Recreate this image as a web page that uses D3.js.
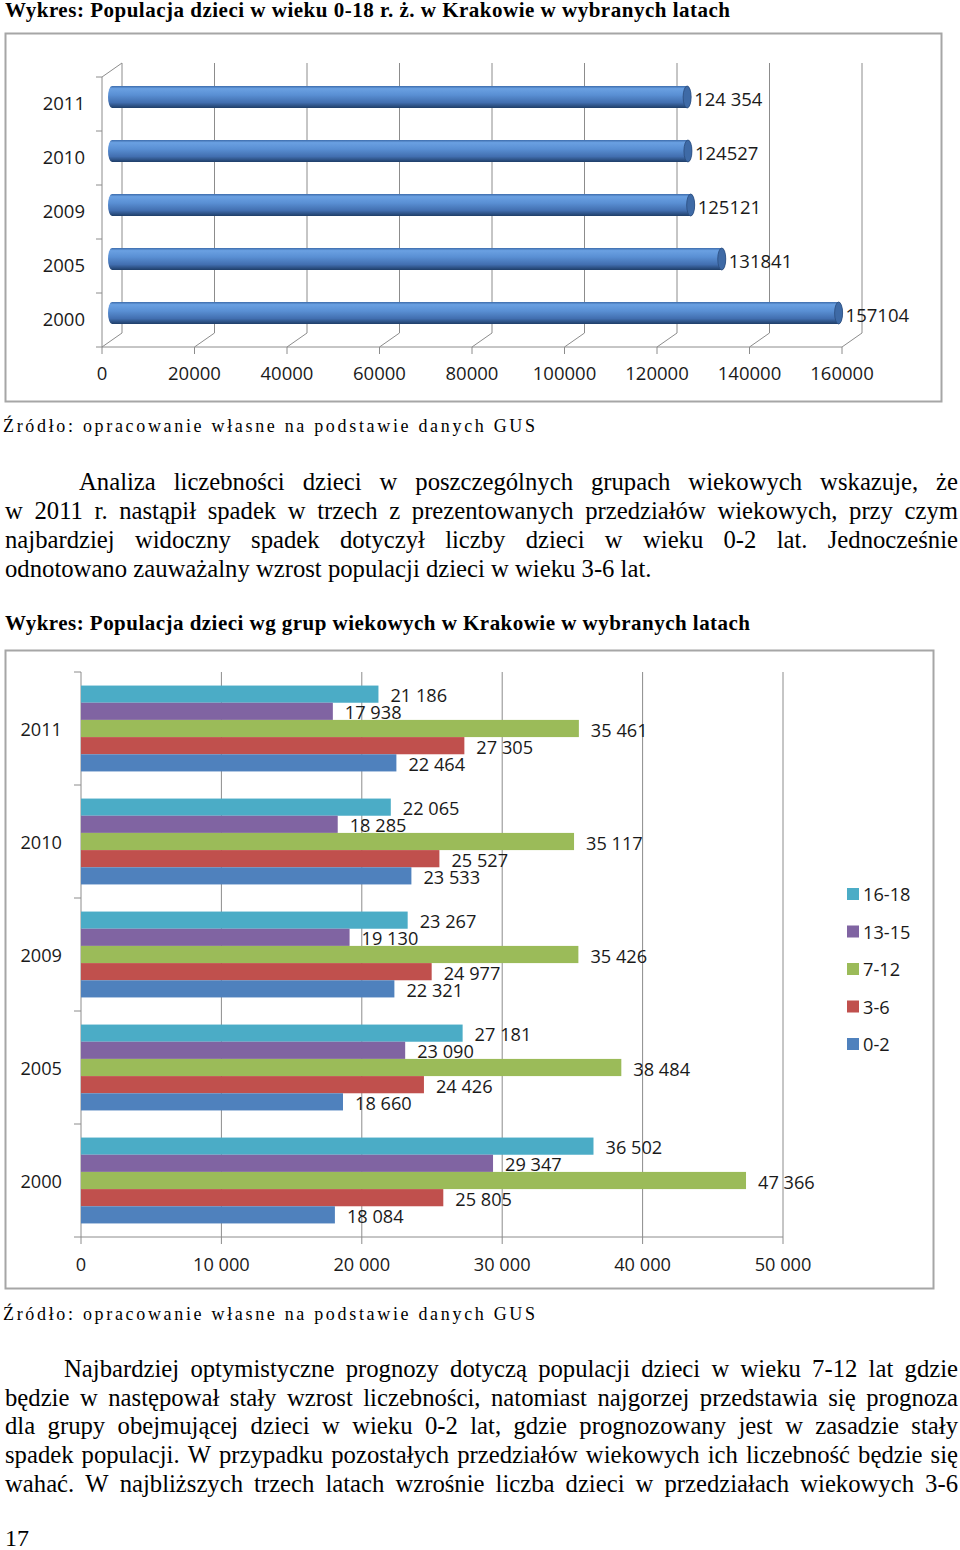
<!DOCTYPE html>
<html>
<head>
<meta charset="utf-8">
<script src="https://cdn.jsdelivr.net/npm/d3@7"></script>
<style>
  body { margin: 0; background: #fff; }
  .serif { font-family: "Liberation Serif", "Times New Roman", serif; fill: #000; }
  .sans { font-family: "Open Sans", "DejaVu Sans", sans-serif; fill: #1a1a1a; }
</style>
</head>
<body>
<script>
// chart 1: total population 0-18
var years1 = ['2011', '2010', '2009', '2005', '2000'];
var totals = [124354, 124527, 125121, 131841, 157104];
var totalLabels = ['124 354', '124527', '125121', '131841', '157104'];
var ticks1 = [0, 20000, 40000, 60000, 80000, 100000, 120000, 140000, 160000];

// chart 2: by age group
var years2 = ['2011', '2010', '2009', '2005', '2000'];
var ageGroups = ['16-18', '13-15', '7-12', '3-6', '0-2'];
var age16_18 = [21186, 22065, 23267, 27181, 36502];
var age13_15 = [17938, 18285, 19130, 23090, 29347];
var age7_12 = [35461, 35117, 35426, 38484, 47366];
var age3_6 = [27305, 25527, 24977, 24426, 25805];
var age0_2 = [22464, 23533, 22321, 18660, 18084];
var ticks2 = [0, 10000, 20000, 30000, 40000, 50000];
var groupColors = ['#4bacc6', '#8064a2', '#9bbb59', '#c0504d', '#4f81bd'];

var para1 = [
  'Analiza liczebności dzieci w poszczególnych grupach wiekowych wskazuje, że',
  'w 2011 r. nastąpił spadek w trzech z prezentowanych przedziałów wiekowych, przy czym',
  'najbardziej widoczny spadek dotyczył liczby dzieci w wieku 0-2 lat. Jednocześnie',
  'odnotowano zauważalny wzrost populacji dzieci w wieku 3-6 lat.'
];
var para2 = [
  'Najbardziej optymistyczne prognozy dotyczą populacji dzieci w wieku 7-12 lat gdzie',
  'będzie w następował stały wzrost liczebności, natomiast najgorzej przedstawia się prognoza',
  'dla grupy obejmującej dzieci w wieku 0-2 lat, gdzie prognozowany jest w zasadzie stały',
  'spadek populacji. W przypadku pozostałych przedziałów wiekowych ich liczebność będzie się',
  'wahać. W najbliższych trzech latach wzrośnie liczba dzieci w przedziałach wiekowych 3-6'
];

var svg = d3.select('body').append('svg')
  .attr('width', 960)
  .attr('height', 1550);

var defs = svg.append('defs');
var grad = defs.append('linearGradient')
  .attr('id', 'cyl')
  .attr('x1', 0).attr('y1', 0).attr('x2', 0).attr('y2', 1);
[['0%', '#3d6cab'], ['12%', '#6aa0e2'], ['40%', '#5a90d4'], ['75%', '#426fb0'], ['100%', '#1f3e68']]
  .forEach(function(s) {
    grad.append('stop').attr('offset', s[0]).attr('stop-color', s[1]);
  });

// titles / captions
function caption(text, x, y, size, bold, len) {
  svg.append('text').attr('class', 'serif')
    .attr('x', x).attr('y', y)
    .style('font-size', size + 'px')
    .style('font-weight', bold ? 'bold' : 'normal')
    .attr('textLength', len)
    .attr('lengthAdjust', 'spacing')
    .text(text);
}

caption('Wykres: Populacja dzieci w wieku 0-18 r. ż. w Krakowie w wybranych latach', 5, 17, 21, true, 725);
caption('Źródło: opracowanie własne na podstawie danych GUS', 3, 432, 18, false, 532);
caption('Wykres: Populacja dzieci wg grup wiekowych w Krakowie w wybranych latach', 5, 630, 21, true, 745);
caption('Źródło: opracowanie własne na podstawie danych GUS', 3, 1320, 18, false, 532);

// justified paragraph lines
function paraLine(text, x0, x1, y, justify) {
  var t = svg.append('text').attr('class', 'serif')
    .attr('y', y)
    .style('font-size', '24.7px');
  if (!justify) {
    t.attr('x', x0).text(text);
    return;
  }
  var words = text.split(' ');
  var widths = words.map(function(w) {
    var tmp = svg.append('text').attr('class', 'serif').style('font-size', '24.7px').text(w);
    var l = tmp.node().getComputedTextLength();
    tmp.remove();
    return l;
  });
  var gap = (x1 - x0 - d3.sum(widths)) / (words.length - 1);
  var pos = x0;
  words.forEach(function(w, i) {
    t.append('tspan').attr('x', pos).text(i < words.length - 1 ? w + ' ' : w);
    pos += widths[i] + gap;
  });
}

para1.forEach(function(line, i) {
  paraLine(line, i === 0 ? 79 : 5, 958, 490 + i * 29, i < para1.length - 1);
});
para2.forEach(function(line, i) {
  paraLine(line, i === 0 ? 64 : 5, 958, 1377 + i * 28.7, true);
});

svg.append('text').attr('class', 'serif')
  .attr('x', 5).attr('y', 1546)
  .style('font-size', '24px')
  .text('17');

// ---------- chart 1 (3D cylinders) ----------
svg.append('rect')
  .attr('x', 5.5).attr('y', 33.5)
  .attr('width', 936).attr('height', 368)
  .attr('fill', '#fff')
  .attr('stroke', '#a6a6a6')
  .attr('stroke-width', 2);

var DX = 20, DY = -14;
var x1 = d3.scaleLinear().domain([0, 160000]).range([102, 842]);
var y1 = d3.scaleBand().domain(years1).range([77, 347]);
var c1 = svg.append('g');
var gridColor = '#8c8c8c';

// back wall gridlines + floor diagonals + bottom ticks
ticks1.forEach(function(t) {
  c1.append('line')
    .attr('x1', x1(t) + DX).attr('x2', x1(t) + DX)
    .attr('y1', y1.range()[0] + DY).attr('y2', y1.range()[1] + DY)
    .attr('stroke', gridColor);
  c1.append('line')
    .attr('x1', x1(t)).attr('y1', y1.range()[1])
    .attr('x2', x1(t) + DX).attr('y2', y1.range()[1] + DY)
    .attr('stroke', gridColor);
  c1.append('line')
    .attr('x1', x1(t)).attr('x2', x1(t))
    .attr('y1', y1.range()[1]).attr('y2', y1.range()[1] + 7)
    .attr('stroke', gridColor);
});
c1.append('line')
  .attr('x1', x1(0)).attr('x2', x1(160000))
  .attr('y1', y1.range()[1]).attr('y2', y1.range()[1])
  .attr('stroke', gridColor);
c1.append('line')
  .attr('x1', x1(0)).attr('x2', x1(0))
  .attr('y1', y1.range()[0]).attr('y2', y1.range()[1])
  .attr('stroke', gridColor);
c1.append('line')
  .attr('x1', x1(0)).attr('y1', y1.range()[0])
  .attr('x2', x1(0) + DX).attr('y2', y1.range()[0] + DY)
  .attr('stroke', gridColor);
years1.concat(['end']).forEach(function(c, i) {
  var yy = y1.range()[0] + i * y1.step();
  c1.append('line')
    .attr('x1', x1(0) - 6).attr('x2', x1(0))
    .attr('y1', yy).attr('y2', yy)
    .attr('stroke', gridColor);
});

c1.selectAll('.xlab').data(ticks1).enter().append('text')
  .attr('class', 'sans')
  .attr('x', function(d) { return x1(d); })
  .attr('y', 372)
  .attr('text-anchor', 'middle')
  .attr('dominant-baseline', 'central')
  .style('font-size', '18.5px')
  .text(function(d) { return d; });

c1.selectAll('.ylab').data(years1).enter().append('text')
  .attr('class', 'sans')
  .attr('x', 85)
  .attr('y', function(d) { return y1(d) + y1.bandwidth() / 2 - 1.5; })
  .attr('text-anchor', 'end')
  .attr('dominant-baseline', 'central')
  .style('font-size', '18.5px')
  .text(function(d) { return d; });

var R = 11, RX = 4;
years1.forEach(function(yr, i) {
  var cy = y1(yr) + y1.bandwidth() / 2 + DY / 2;
  var a = x1(0) + DX / 2, b = x1(totals[i]) + DX / 2;
  c1.append('path')
    .attr('d', 'M' + a + ',' + (cy - R) + 'L' + b + ',' + (cy - R) +
      'A' + RX + ',' + R + ' 0 0 1 ' + b + ',' + (cy + R) +
      'L' + a + ',' + (cy + R) +
      'A' + RX + ',' + R + ' 0 0 1 ' + a + ',' + (cy - R) + 'Z')
    .attr('fill', 'url(#cyl)');
  c1.append('ellipse')
    .attr('cx', b).attr('cy', cy)
    .attr('rx', RX).attr('ry', R)
    .attr('fill', '#3e6aa6')
    .attr('stroke', '#2b4d7e')
    .attr('stroke-width', 0.8);
  c1.append('text')
    .attr('class', 'sans')
    .attr('x', b + RX + 3)
    .attr('y', cy + 1.5)
    .attr('dominant-baseline', 'central')
    .style('font-size', '18.5px')
    .text(totalLabels[i]);
});

// ---------- chart 2 (grouped bars) ----------
svg.append('rect')
  .attr('x', 5.5).attr('y', 650.5)
  .attr('width', 928).attr('height', 638)
  .attr('fill', '#fff')
  .attr('stroke', '#a6a6a6')
  .attr('stroke-width', 2);

var series = [age16_18, age13_15, age7_12, age3_6, age0_2];
var x2 = d3.scaleLinear().domain([0, 50000]).range([81, 783]);
var y2 = d3.scaleBand().domain(years2).range([672, 1237])
  .paddingInner(0.24).paddingOuter(0.12);
var yIn = d3.scaleBand().domain(ageGroups).range([0, y2.bandwidth()]);
var color = d3.scaleOrdinal().domain(ageGroups).range(groupColors);
var fmt = d3.formatLocale({decimal: ',', thousands: ' ', grouping: [3], currency: ['', '']}).format(',d');
var c2 = svg.append('g');

ticks2.forEach(function(t) {
  c2.append('line')
    .attr('x1', x2(t)).attr('x2', x2(t))
    .attr('y1', 672).attr('y2', 1244)
    .attr('stroke', gridColor);
});
c2.append('line')
  .attr('x1', x2(0)).attr('x2', x2(50000))
  .attr('y1', 1237).attr('y2', 1237)
  .attr('stroke', gridColor);
d3.range(years2.length + 1).forEach(function(i) {
  var yy = 672 + i * y2.step();
  c2.append('line')
    .attr('x1', x2(0) - 7).attr('x2', x2(0))
    .attr('y1', yy).attr('y2', yy)
    .attr('stroke', gridColor);
});

c2.selectAll('.xlab').data(ticks2).enter().append('text')
  .attr('class', 'sans')
  .attr('x', function(d) { return x2(d); })
  .attr('y', 1264)
  .attr('text-anchor', 'middle')
  .attr('dominant-baseline', 'central')
  .style('font-size', '18.2px')
  .text(function(d) { return fmt(d); });

c2.selectAll('.ylab').data(years2).enter().append('text')
  .attr('class', 'sans')
  .attr('x', 62)
  .attr('y', function(d) { return y2(d) - y2.step() * 0.12 + y2.step() / 2; })
  .attr('text-anchor', 'end')
  .attr('dominant-baseline', 'central')
  .style('font-size', '18.2px')
  .text(function(d) { return d; });

ageGroups.forEach(function(g, gi) {
  years2.forEach(function(yr, i) {
    var v = series[gi][i];
    var yy = y2(yr) + yIn(g);
    c2.append('rect')
      .attr('x', x2(0)).attr('y', yy)
      .attr('width', x2(v) - x2(0))
      .attr('height', yIn.bandwidth())
      .attr('fill', color(g));
    c2.append('text')
      .attr('class', 'sans')
      .attr('x', x2(v) + 12)
      .attr('y', yy + yIn.bandwidth() / 2 + 1)
      .attr('dominant-baseline', 'central')
      .style('font-size', '18.2px')
      .text(fmt(v));
  });
});

var legend = c2.selectAll('.leg').data(ageGroups).enter().append('g')
  .attr('transform', function(d, i) { return 'translate(847,' + (894 + i * 37.5) + ')'; });
legend.append('rect')
  .attr('x', 0).attr('y', -6)
  .attr('width', 12).attr('height', 12)
  .attr('fill', function(d) { return color(d); });
legend.append('text')
  .attr('class', 'sans')
  .attr('x', 16)
  .attr('dominant-baseline', 'central')
  .style('font-size', '18.2px')
  .text(function(d) { return d; });
</script>
</body>
</html>
